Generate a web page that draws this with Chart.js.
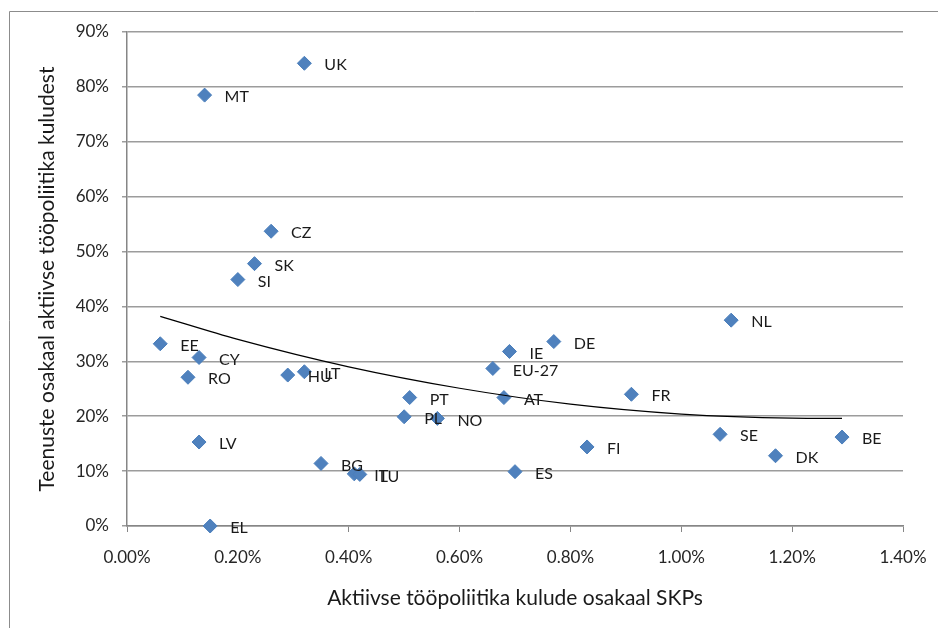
<!DOCTYPE html>
<html>
<head>
<meta charset="utf-8">
<script src="https://cdn.jsdelivr.net/npm/chart.js@4"></script>
<style>
  html, body { margin: 0; padding: 0; background: #fff; }
  #wrap { width: 938px; height: 628px; position: relative; }
</style>
</head>
<body>
<div id="wrap"><canvas id="myChart" width="938" height="628"></canvas></div>
<script>
// riigid ja väärtused (protsentides)
const countries = ["UK", "MT", "CZ", "SK", "SI", "EE", "CY", "RO", "HU", "LT", "PT", "PL", "NO", "LV", "BG", "IT", "LU", "EL",
    "NL", "DE", "IE", "EU-27", "AT", "FR", "SE", "BE", "FI", "DK", "ES"];
const spending = [0.32, 0.14, 0.26, 0.23, 0.20, 0.06, 0.13, 0.11, 0.29, 0.32, 0.51, 0.50, 0.56, 0.13, 0.35, 0.41, 0.42, 0.15,
    1.09, 0.77, 0.69, 0.66, 0.68, 0.91, 1.07, 1.29, 0.83, 1.17, 0.70];
const serviceShare = [84.3, 78.5, 53.7, 47.8, 44.9, 33.2, 30.7, 27.1, 27.5, 28.1, 23.4, 19.9, 19.6, 15.3, 11.4, 9.5, 9.4, 0,
    37.5, 33.6, 31.8, 28.7, 23.4, 24.0, 16.7, 16.2, 14.4, 12.8, 9.9];

// trendijoon, loetud pildilt
const trendX = [0.06, 0.2, 0.4, 0.6, 0.8, 1.0, 1.2, 1.29];
const trendY = [38.2, 34.0, 29.0, 25.1, 22.2, 20.4, 19.65, 19.6];

const xTicks = { min: 0, max: 1.4, step: 0.2 };
const yTicks = { min: 0, max: 90, step: 10 };

const FONT = "Lato, 'Open Sans', sans-serif";

const points = spending.map((x, i) => ({ x: x, y: serviceShare[i] }));
const trend = trendX.map((x, i) => ({ x: x, y: trendY[i] }));

// raam ümber graafiku
const framePlugin = {
    id: "frame",
    beforeDraw(chart) {
        const c = chart.ctx;
        c.save();
        c.strokeStyle = "#8c8c8c";
        c.lineWidth = 1;
        c.beginPath();
        c.moveTo(9.5, 700);
        c.lineTo(9.5, 11.5);
        c.lineTo(1000, 11.5);
        c.stroke();
        c.restore();
    }
};

// riikide nimed punktide kõrval
const labelPlugin = {
    id: "pointLabels",
    afterDatasetsDraw(chart) {
        const c = chart.ctx;
        const meta = chart.getDatasetMeta(0);
        c.save();
        c.font = "16px " + FONT;
        c.fillStyle = "#1a1a1a";
        c.textBaseline = "middle";
        c.textAlign = "left";
        meta.data.forEach((el, i) => {
            c.fillText(countries[i], el.x + 20, el.y + 2);
        });
        c.restore();
    }
};

const ctx = document.getElementById("myChart").getContext("2d");
const myChart = new Chart(ctx, {
    type: "scatter",
    data: {
        datasets: [
            {
                label: "Riigid",
                data: points,
                pointStyle: "rectRot",
                pointRadius: 7,
                pointHoverRadius: 7,
                backgroundColor: "#4F81BD",
                borderColor: "#4A7EBB",
                borderWidth: 1,
                clip: false,
                order: 2
            },
            {
                label: "Trend",
                type: "line",
                data: trend,
                borderColor: "#000",
                borderWidth: 1.2,
                pointRadius: 0,
                fill: false,
                cubicInterpolationMode: "monotone",
                order: 1
            }
        ]
    },
    options: {
        responsive: false,
        animation: false,
        layout: { padding: { left: 20, top: 32, right: 35, bottom: 10 } },
        plugins: {
            legend: { display: false },
            tooltip: { enabled: false }
        },
        scales: {
            x: {
                type: "linear",
                min: xTicks.min,
                max: xTicks.max,
                afterFit: (s) => {
                    s.height = 92;
                    s.paddingRight = 25;
                    s.paddingLeft = 0;
                },
                ticks: {
                    stepSize: xTicks.step,
                    color: "#262626",
                    font: { family: FONT, size: 17 },
                    padding: 15,
                    callback: (v) => v.toFixed(2) + "%"
                },
                grid: { drawOnChartArea: false, drawTicks: true, tickLength: 6, color: "#868686" },
                border: { color: "#868686", width: 1.5 },
                title: {
                    display: true,
                    text: "Aktiivse tööpoliitika kulude osakaal SKPs",
                    color: "#1a1a1a",
                    font: { family: FONT, size: 21 },
                    padding: { top: 0, bottom: 7 }
                }
            },
            y: {
                min: yTicks.min,
                max: yTicks.max,
                afterFit: (s) => { s.width = 107; },
                ticks: {
                    stepSize: yTicks.step,
                    color: "#262626",
                    font: { family: FONT, size: 17 },
                    padding: 13,
                    callback: (v) => v + "%"
                },
                grid: { color: "#9c9c9c", lineWidth: 1.5, tickLength: 5 },
                border: { color: "#868686", width: 1.5 },
                title: {
                    display: true,
                    text: "Teenuste osakaal aktiivse tööpoliitika kuludest",
                    color: "#1a1a1a",
                    font: { family: FONT, size: 21 },
                    padding: { top: 15, bottom: 0 }
                }
            }
        }
    },
    plugins: [framePlugin, labelPlugin]
});
</script>
</body>
</html>
